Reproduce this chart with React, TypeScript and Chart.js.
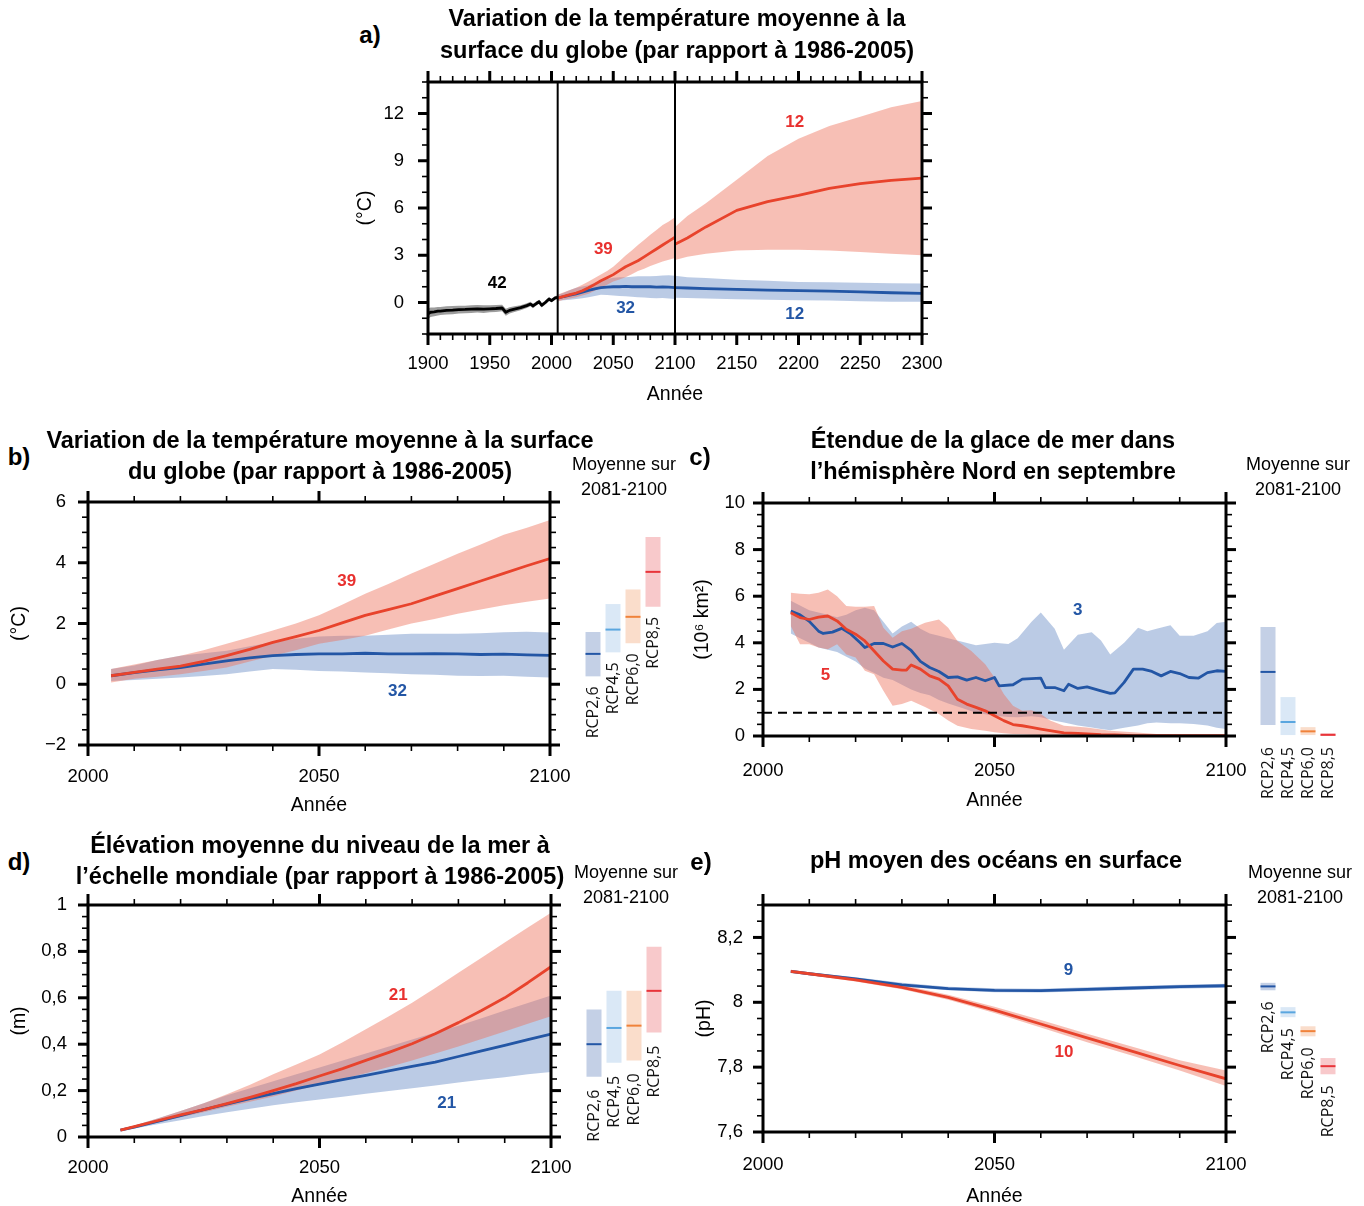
import React, { useEffect, useRef } from 'react';
import { Chart, registerables } from 'chart.js';

Chart.register(...registerables);

// ---------------- data ----------------
// Panel a: historical (1900-2005)
const A_HIST_YEARS = [1900, 1902, 1905, 1908, 1910, 1915, 1920, 1925, 1930, 1935, 1940, 1945, 1950, 1955, 1960, 1963, 1966, 1970, 1975, 1980, 1983, 1985, 1988, 1990, 1992, 1995, 1998, 2000, 2003, 2005];
const A_HIST_MEAN = [-0.72, -0.62, -0.6, -0.55, -0.55, -0.5, -0.48, -0.45, -0.44, -0.42, -0.4, -0.42, -0.4, -0.38, -0.35, -0.62, -0.5, -0.42, -0.33, -0.2, -0.1, -0.22, -0.05, 0.05, -0.18, 0.0, 0.22, 0.12, 0.3, 0.32];
const A_HIST_HIGH = [-0.4, -0.32, -0.32, -0.28, -0.28, -0.24, -0.22, -0.2, -0.2, -0.18, -0.16, -0.18, -0.18, -0.16, -0.14, -0.4, -0.3, -0.24, -0.17, -0.05, 0.04, -0.08, 0.08, 0.18, -0.05, 0.12, 0.34, 0.24, 0.42, 0.44];
const A_HIST_LOW = [-1.05, -0.92, -0.88, -0.82, -0.8, -0.76, -0.74, -0.7, -0.68, -0.66, -0.64, -0.66, -0.62, -0.6, -0.56, -0.84, -0.7, -0.6, -0.49, -0.35, -0.24, -0.36, -0.18, -0.08, -0.31, -0.12, 0.1, 0.0, 0.18, 0.2];

// Temperature projections 2005-2100 (panels a and b)
const T_YEARS = [2005, 2010, 2015, 2020, 2025, 2030, 2035, 2040, 2045, 2050, 2055, 2060, 2065, 2070, 2075, 2080, 2085, 2090, 2095, 2100];
const T85_MEAN = [0.28, 0.39, 0.5, 0.6, 0.75, 0.94, 1.15, 1.38, 1.57, 1.77, 2.02, 2.27, 2.46, 2.65, 2.9, 3.15, 3.4, 3.65, 3.9, 4.14];
const T85_HIGH = [0.5, 0.65, 0.8, 0.94, 1.12, 1.33, 1.55, 1.77, 2.0, 2.27, 2.62, 2.98, 3.3, 3.65, 3.97, 4.3, 4.6, 4.92, 5.15, 5.41];
const T85_LOW = [0.06, 0.18, 0.25, 0.33, 0.44, 0.55, 0.75, 0.94, 1.12, 1.33, 1.46, 1.6, 1.8, 2.0, 2.15, 2.32, 2.46, 2.6, 2.72, 2.82];
const T26_MEAN = [0.28, 0.38, 0.47, 0.55, 0.66, 0.77, 0.87, 0.94, 0.98, 1.0, 1.0, 1.02, 1.0, 1.0, 1.01, 1.0, 0.98, 0.99, 0.97, 0.95];
const T26_HIGH = [0.5, 0.62, 0.8, 0.94, 1.02, 1.1, 1.25, 1.38, 1.5, 1.57, 1.6, 1.6, 1.63, 1.66, 1.66, 1.66, 1.68, 1.71, 1.73, 1.7];
const T26_LOW = [0.11, 0.14, 0.18, 0.22, 0.27, 0.33, 0.42, 0.5, 0.48, 0.44, 0.42, 0.39, 0.36, 0.33, 0.31, 0.28, 0.27, 0.28, 0.25, 0.22];

// Panel a: extension 2100-2300
const A_EXT_YEARS = [2100, 2110, 2125, 2150, 2175, 2200, 2225, 2250, 2275, 2300];
const A_EXT85_MEAN = [3.7, 4.1, 4.8, 5.85, 6.4, 6.8, 7.25, 7.55, 7.75, 7.9];
const A_EXT85_HIGH = [4.8, 5.5, 6.3, 7.8, 9.3, 10.4, 11.2, 11.8, 12.4, 12.8];
const A_EXT85_LOW = [2.7, 2.9, 3.1, 3.3, 3.35, 3.35, 3.3, 3.2, 3.1, 3.0];
const A_EXT26_MEAN = [0.95, 0.92, 0.88, 0.83, 0.78, 0.75, 0.72, 0.68, 0.62, 0.58];
const A_EXT26_HIGH = [1.7, 1.6, 1.55, 1.45, 1.38, 1.3, 1.28, 1.25, 1.22, 1.2];
const A_EXT26_LOW = [0.3, 0.28, 0.25, 0.2, 0.18, 0.15, 0.12, 0.08, 0.05, 0.05];
const A_DIVIDERS = [2005, 2100];

// Panel c: September Arctic sea ice extent (10^6 km2)
const C_BLUE_YEARS = [2006, 2008, 2010, 2012, 2013, 2015, 2017, 2019, 2021, 2022, 2024, 2026, 2028, 2030, 2032, 2034, 2036, 2038, 2040, 2042, 2044, 2046, 2048, 2050, 2051, 2054, 2056, 2060, 2061, 2063, 2065, 2066, 2068, 2070, 2073, 2075, 2076, 2078, 2080, 2082, 2084, 2086, 2088, 2090, 2092, 2094, 2096, 2098, 2100];
const C_BLUE_MEAN = [5.36, 5.2, 4.92, 4.5, 4.4, 4.46, 4.62, 4.37, 4.0, 3.8, 3.97, 3.97, 3.82, 3.97, 3.67, 3.2, 2.94, 2.77, 2.51, 2.54, 2.4, 2.51, 2.37, 2.51, 2.15, 2.2, 2.44, 2.48, 2.08, 2.08, 1.94, 2.22, 2.04, 2.11, 1.94, 1.83, 1.85, 2.3, 2.87, 2.87, 2.77, 2.58, 2.77, 2.68, 2.51, 2.48, 2.72, 2.8, 2.77];
const C_BLUE_BAND_YEARS = [2006, 2008, 2010, 2012, 2014, 2016, 2018, 2020, 2022, 2024, 2026, 2028, 2030, 2032, 2034, 2036, 2038, 2040, 2043, 2046, 2050, 2053, 2055, 2058, 2060, 2063, 2065, 2068, 2071, 2073, 2075, 2078, 2081, 2083, 2085, 2088, 2090, 2093, 2096, 2098, 2100];
const C_BLUE_HIGH = [5.8, 5.6, 5.4, 5.3, 5.2, 5.1, 5.2, 5.4, 5.5, 5.4, 4.9, 4.4, 4.7, 4.9, 4.6, 4.4, 4.3, 4.2, 4.05, 3.9, 4.0, 3.95, 4.2, 4.9, 5.3, 4.6, 3.7, 4.35, 4.45, 4.1, 3.5, 4.0, 4.65, 4.5, 4.6, 4.75, 4.3, 4.3, 4.5, 4.85, 4.9];
const C_BLUE_LOW = [4.4, 4.2, 4.0, 3.8, 3.7, 3.6, 3.4, 3.2, 2.9, 2.7, 2.5, 2.4, 2.2, 2.0, 1.85, 1.75, 1.55, 1.4, 1.2, 1.0, 0.87, 0.82, 0.8, 0.85, 0.8, 0.65, 0.58, 0.45, 0.37, 0.3, 0.25, 0.35, 0.45, 0.55, 0.58, 0.55, 0.55, 0.52, 0.45, 0.35, 0.3];
const C_RED_YEARS = [2006, 2008, 2010, 2012, 2014, 2016, 2018, 2020, 2022, 2024, 2026, 2028, 2030, 2031, 2032, 2034, 2036, 2038, 2040, 2042, 2044, 2046, 2048, 2050, 2052, 2054, 2056, 2058, 2060, 2062, 2065, 2068, 2070, 2073, 2076, 2080, 2085, 2090, 2095, 2100];
const C_RED_MEAN = [5.29, 5.08, 5.0, 5.1, 5.15, 4.94, 4.58, 4.37, 4.08, 3.65, 3.22, 2.87, 2.83, 2.83, 3.05, 2.87, 2.58, 2.44, 2.15, 1.58, 1.37, 1.23, 1.08, 0.87, 0.66, 0.49, 0.44, 0.37, 0.3, 0.23, 0.13, 0.11, 0.09, 0.06, 0.05, 0.02, 0.01, 0.01, 0.01, 0.01];
const C_RED_BAND_YEARS = [2006, 2008, 2010, 2012, 2014, 2016, 2018, 2020, 2022, 2024, 2026, 2028, 2030, 2032, 2035, 2038, 2040, 2042, 2045, 2048, 2050, 2052, 2054, 2056, 2058, 2060, 2062, 2065, 2070, 2075, 2080, 2085, 2090, 2095, 2100];
const C_RED_HIGH = [6.15, 6.1, 6.08, 6.15, 6.29, 6.0, 5.58, 5.55, 5.55, 5.58, 4.65, 4.22, 4.5, 4.6, 4.86, 5.0, 4.65, 4.08, 3.65, 3.08, 2.51, 1.8, 1.3, 1.08, 1.1, 0.94, 0.66, 0.44, 0.37, 0.23, 0.16, 0.09, 0.06, 0.05, 0.04];
const C_RED_LOW = [4.72, 3.94, 3.94, 3.8, 3.72, 3.94, 3.5, 3.37, 2.8, 2.65, 1.94, 1.3, 1.37, 1.51, 1.25, 0.94, 0.66, 0.44, 0.3, 0.23, 0.16, 0.12, 0.09, 0.07, 0.05, 0.04, 0.03, 0.02, 0.01, 0.0, 0.0, 0.0, 0.0, 0.0, 0.0];
const C_THRESHOLD_YEARS = [2000, 2100];
const C_THRESHOLD = [1, 1];

// Panel d: global mean sea level rise (m)
const D_YEARS = [2007, 2010, 2015, 2020, 2025, 2030, 2035, 2040, 2045, 2050, 2055, 2060, 2065, 2070, 2075, 2080, 2085, 2090, 2095, 2100];
const D85_MEAN = [0.03, 0.045, 0.07, 0.095, 0.118, 0.144, 0.171, 0.2, 0.23, 0.263, 0.295, 0.33, 0.365, 0.402, 0.445, 0.493, 0.545, 0.6, 0.665, 0.734];
const D85_HIGH = [0.033, 0.05, 0.08, 0.112, 0.146, 0.184, 0.225, 0.27, 0.312, 0.356, 0.408, 0.464, 0.52, 0.579, 0.642, 0.708, 0.773, 0.838, 0.903, 0.967];
const D85_LOW = [0.027, 0.04, 0.062, 0.085, 0.107, 0.13, 0.152, 0.175, 0.2, 0.225, 0.25, 0.275, 0.302, 0.33, 0.36, 0.39, 0.422, 0.455, 0.488, 0.52];
const D26_MEAN = [0.03, 0.043, 0.067, 0.092, 0.118, 0.142, 0.165, 0.187, 0.208, 0.228, 0.247, 0.266, 0.285, 0.304, 0.323, 0.347, 0.371, 0.395, 0.42, 0.444];
const D26_HIGH = [0.034, 0.05, 0.08, 0.112, 0.145, 0.18, 0.21, 0.24, 0.27, 0.3, 0.33, 0.36, 0.39, 0.42, 0.45, 0.48, 0.512, 0.545, 0.578, 0.61];
const D26_LOW = [0.026, 0.037, 0.055, 0.072, 0.09, 0.107, 0.122, 0.137, 0.15, 0.162, 0.174, 0.186, 0.198, 0.21, 0.222, 0.235, 0.247, 0.258, 0.27, 0.28];

// Panel e: surface ocean pH
const E_YEARS = [2006, 2010, 2020, 2030, 2040, 2050, 2060, 2070, 2080, 2090, 2100];
const E26_MEAN = [8.095, 8.088, 8.072, 8.054, 8.042, 8.037, 8.036, 8.04, 8.044, 8.048, 8.051];
const E26_HIGH = [8.1, 8.093, 8.077, 8.06, 8.048, 8.043, 8.042, 8.046, 8.05, 8.054, 8.057];
const E26_LOW = [8.09, 8.083, 8.067, 8.049, 8.037, 8.031, 8.03, 8.034, 8.038, 8.042, 8.045];
const E85_MEAN = [8.095, 8.088, 8.069, 8.046, 8.015, 7.976, 7.933, 7.89, 7.848, 7.805, 7.764];
const E85_HIGH = [8.1, 8.093, 8.075, 8.053, 8.023, 7.986, 7.945, 7.903, 7.862, 7.821, 7.79];
const E85_LOW = [8.09, 8.083, 8.064, 8.04, 8.008, 7.967, 7.922, 7.877, 7.834, 7.79, 7.742];

// 2081-2100 averages (side bars): RCP2.6, RCP4.5, RCP6.0, RCP8.5
const RCP_LABELS = ['RCP2,6', 'RCP4,5', 'RCP6,0', 'RCP8,5'];
const B_SB_LOW = [0.26, 1.05, 1.35, 2.55];
const B_SB_HIGH = [1.72, 2.64, 3.12, 4.85];
const B_SB_MEAN = [1.0, 1.8, 2.22, 3.7];
const C_SB_LOW = [0.47, 0.04, 0.04, 0.0];
const C_SB_HIGH = [4.68, 1.67, 0.38, 0.12];
const C_SB_MEAN = [2.75, 0.6, 0.2, 0.05];
const D_SB_LOW = [0.26, 0.32, 0.33, 0.45];
const D_SB_HIGH = [0.55, 0.63, 0.63, 0.82];
const D_SB_MEAN = [0.4, 0.47, 0.48, 0.63];
const E_SB_LOW = [8.037, 7.954, 7.895, 7.778];
const E_SB_HIGH = [8.06, 7.985, 7.926, 7.828];
const E_SB_MEAN = [8.049, 7.969, 7.911, 7.803];

// Model-count annotations
const A_NOTE_X = [1956, 2042, 2060, 2197, 2197];
const A_NOTE_Y = [1.25, 3.4, -0.4, 11.45, -0.75];
const A_NOTE_TEXT = ['42', '39', '32', '12', '12'];
const A_NOTE_KIND = ['hist', 'rcp85', 'rcp26', 'rcp85', 'rcp26'];
const B_NOTE_X = [2056, 2067];
const B_NOTE_Y = [3.4, -0.23];
const B_NOTE_TEXT = ['39', '32'];
const B_NOTE_KIND = ['rcp85', 'rcp26'];
const C_NOTE_X = [2068, 2013.5];
const C_NOTE_Y = [5.4, 2.6];
const C_NOTE_TEXT = ['3', '5'];
const C_NOTE_KIND = ['rcp26', 'rcp85'];
const D_NOTE_X = [2067, 2077.5];
const D_NOTE_Y = [0.612, 0.147];
const D_NOTE_TEXT = ['21', '21'];
const D_NOTE_KIND = ['rcp85', 'rcp26'];
const E_NOTE_X = [2066, 2065];
const E_NOTE_Y = [8.098, 7.846];
const E_NOTE_TEXT = ['9', '10'];
const E_NOTE_KIND = ['rcp26', 'rcp85'];

// Tick values and labels
const A_XTICKS = [1900, 1950, 2000, 2050, 2100, 2150, 2200, 2250, 2300];
const A_YTICKS = [0, 3, 6, 9, 12];
const A_YLABELS = ['0', '3', '6', '9', '12'];
const P_XTICKS = [2000, 2050, 2100];
const B_YTICKS = [-2, 0, 2, 4, 6];
const B_YLABELS = ['\u22122', '0', '2', '4', '6'];
const C_YTICKS = [0, 2, 4, 6, 8, 10];
const C_YLABELS = ['0', '2', '4', '6', '8', '10'];
const D_YTICKS = [0, 0.2, 0.4, 0.6, 0.8, 1];
const D_YLABELS = ['0', '0,2', '0,4', '0,6', '0,8', '1'];
const E_YTICKS = [7.6, 7.8, 8, 8.2];
const E_YLABELS = ['7,6', '7,8', '8', '8,2'];

// ---------------- styles ----------------
const SANS = "'Liberation Sans', Arial, 'DejaVu Sans', sans-serif";
const OPEN = "'Open Sans', 'Noto Sans', sans-serif";
const RED = '#E8432C';
const BLUE = '#2356A5';
const RED_BAND = 'rgba(238,112,92,0.45)';
const BLUE_BAND = 'rgba(105,140,198,0.45)';
const GRAY_BAND = 'rgba(60,60,60,0.5)';
const NOTE_COLORS: Record<string, string> = { hist: '#000', rcp85: '#E8312F', rcp26: '#2356A5' };
const SB_FILL = ['#C4D0E6', '#DAE8F6', '#FADDCB', '#F8C9CB'];
const SB_LINE = ['#2356A5', '#5AA6DF', '#F0823A', '#E8343A'];

type Box = { x: number; y: number; w: number; h: number };

function lineDs(xs: number[], ys: number[], color: string, width = 2.8, dash: number[] = []) {
  return {
    data: xs.map((x, i) => ({ x, y: ys[i] })),
    borderColor: color,
    borderWidth: width,
    borderDash: dash,
    pointRadius: 0,
    pointHoverRadius: 0,
    fill: false,
    tension: 0,
    borderJoinStyle: 'round',
  };
}

function bandDs(xs: number[], hi: number[], lo: number[], color: string) {
  return [
    {
      data: xs.map((x, i) => ({ x, y: hi[i] })),
      borderColor: 'rgba(0,0,0,0)',
      borderWidth: 0,
      backgroundColor: color,
      fill: '+1',
      pointRadius: 0,
      pointHoverRadius: 0,
      tension: 0,
    },
    {
      data: xs.map((x, i) => ({ x, y: lo[i] })),
      borderColor: 'rgba(0,0,0,0)',
      borderWidth: 0,
      fill: false,
      pointRadius: 0,
      pointHoverRadius: 0,
      tension: 0,
    },
  ];
}

function notes(xs: number[], ys: number[], texts: string[], kinds: string[]) {
  return xs.map((x, i) => ({ x, y: ys[i], text: texts[i], color: NOTE_COLORS[kinds[i]] }));
}

type MainSpec = {
  padTop: number; padRight: number; yW: number; xH: number;
  xMin: number; xMax: number; yMin: number; yMax: number;
  xTicks: number[]; yTicks: number[]; yLabels: string[];
  xMinor: number; yMinor: number;
  xTickPad: number; yTickPad: number; yTitle: string; yTitlePad: number; xTitlePad: number;
  datasets: any[]; notes: { x: number; y: number; text: string; color: string }[]; vlines?: number[];
};

function zeroPad(sc: any) {
  sc.paddingLeft = 0;
  sc.paddingRight = 0;
  sc.paddingTop = 0;
  sc.paddingBottom = 0;
}

function mainConfig(s: MainSpec): any {
  const frame = {
    id: 'frame',
    afterDatasetsDraw(chart: any) {
      const { ctx, chartArea: a } = chart;
      const xs = chart.scales.x;
      const ys = chart.scales.y;
      const seg = (x1: number, y1: number, x2: number, y2: number) => {
        ctx.beginPath(); ctx.moveTo(x1, y1); ctx.lineTo(x2, y2); ctx.stroke();
      };
      ctx.save();
      ctx.strokeStyle = '#000';
      ctx.lineCap = 'butt';
      ctx.lineWidth = 2;
      for (const v of s.vlines || []) {
        const p = xs.getPixelForValue(v);
        seg(p, a.top, p, a.bottom);
      }
      ctx.lineWidth = 1.6;
      const nx = Math.round((xs.max - xs.min) / s.xMinor);
      for (let i = 0; i <= nx; i++) {
        const p = xs.getPixelForValue(xs.min + i * s.xMinor);
        seg(p, a.bottom, p, a.bottom + 6);
        seg(p, a.top - 6, p, a.top);
      }
      const ny = Math.round((ys.max - ys.min) / s.yMinor);
      for (let i = 0; i <= ny; i++) {
        const p = ys.getPixelForValue(ys.min + i * s.yMinor);
        seg(a.left - 6, p, a.left, p);
        seg(a.right, p, a.right + 6, p);
      }
      ctx.lineWidth = 3;
      for (const v of s.xTicks) {
        const p = xs.getPixelForValue(v);
        seg(p, a.bottom, p, a.bottom + 11);
        seg(p, a.top - 11, p, a.top);
      }
      for (const v of s.yTicks) {
        const p = ys.getPixelForValue(v);
        seg(a.left - 10, p, a.left, p);
        seg(a.right, p, a.right + 10, p);
      }
      ctx.strokeRect(a.left, a.top, a.right - a.left, a.bottom - a.top);
      ctx.restore();
    },
  };
  const notesPlugin = {
    id: 'notes',
    afterDatasetsDraw(chart: any) {
      const { ctx } = chart;
      const xs = chart.scales.x;
      const ys = chart.scales.y;
      ctx.save();
      ctx.font = `bold 17px ${SANS}`;
      ctx.textAlign = 'center';
      ctx.textBaseline = 'middle';
      for (const n of s.notes) {
        ctx.fillStyle = n.color;
        ctx.fillText(n.text, xs.getPixelForValue(n.x), ys.getPixelForValue(n.y));
      }
      ctx.restore();
    },
  };
  const tickFont = { family: SANS, size: 18.5 };
  const titleFont = { family: SANS, size: 19.5, lineHeight: 1 };
  return {
    type: 'line',
    data: { datasets: s.datasets },
    options: {
      animation: false,
      responsive: false,
      events: [],
      layout: { autoPadding: false, padding: { top: s.padTop, right: s.padRight, left: 0, bottom: 0 } },
      plugins: { legend: { display: false }, tooltip: { enabled: false } },
      scales: {
        x: {
          type: 'linear',
          position: 'bottom',
          min: s.xMin,
          max: s.xMax,
          grid: { display: false, drawTicks: false },
          border: { display: false },
          afterBuildTicks: (sc: any) => { sc.ticks = s.xTicks.map((v) => ({ value: v })); },
          afterFit: (sc: any) => { sc.height = s.xH; zeroPad(sc); },
          ticks: {
            font: tickFont, color: '#000', padding: s.xTickPad, maxRotation: 0, minRotation: 0, autoSkip: false,
            callback: (v: any) => String(v),
          },
          title: { display: true, text: 'Année', color: '#000', font: titleFont, padding: { top: 0, bottom: s.xTitlePad } },
        },
        y: {
          type: 'linear',
          position: 'left',
          min: s.yMin,
          max: s.yMax,
          grid: { display: false, drawTicks: false },
          border: { display: false },
          afterBuildTicks: (sc: any) => { sc.ticks = s.yTicks.map((v) => ({ value: v })); },
          afterFit: (sc: any) => { sc.width = s.yW; zeroPad(sc); },
          ticks: {
            font: tickFont, color: '#000', padding: s.yTickPad, autoSkip: false,
            callback: (v: any) => { const k = s.yTicks.indexOf(v); return k >= 0 ? s.yLabels[k] : ''; },
          },
          title: { display: true, text: s.yTitle, color: '#000', font: titleFont, padding: { top: s.yTitlePad, bottom: 0 } },
        },
      },
    },
    plugins: [frame, notesPlugin],
  };
}

type SideSpec = {
  low: number[]; high: number[]; mean: number[]; yMin: number; yMax: number;
  padBottom: number; gap?: number; fixed?: number;
};

function sideConfig(s: SideSpec): any {
  const labelsPlugin = {
    id: 'rcpLabels',
    afterDatasetsDraw(chart: any) {
      const { ctx, chartArea } = chart;
      const xs = chart.scales.x;
      const ys = chart.scales.y;
      ctx.save();
      ctx.font = `16px ${OPEN}`;
      ctx.fillStyle = '#111';
      ctx.textAlign = 'right';
      ctx.textBaseline = 'middle';
      RCP_LABELS.forEach((t, i) => {
        const x = xs.getPixelForValue(i);
        const y = s.fixed !== undefined ? chartArea.bottom + s.fixed : ys.getPixelForValue(s.low[i]) + (s.gap || 10);
        ctx.save();
        ctx.translate(x, y);
        ctx.rotate(-Math.PI / 2);
        ctx.fillText(t, 0, 0);
        ctx.restore();
      });
      ctx.restore();
    },
  };
  return {
    type: 'bar',
    data: {
      labels: RCP_LABELS,
      datasets: [
        {
          type: 'line',
          data: s.mean,
          showLine: false,
          pointStyle: 'line',
          pointRadius: 7.5,
          pointHoverRadius: 7.5,
          pointBorderWidth: 2,
          pointBorderColor: SB_LINE,
          pointBackgroundColor: SB_LINE,
          order: 0,
        },
        {
          type: 'bar',
          data: s.low.map((l, i) => [l, s.high[i]]),
          backgroundColor: SB_FILL,
          borderWidth: 0,
          barPercentage: 0.75,
          categoryPercentage: 1,
          order: 1,
        },
      ],
    },
    options: {
      animation: false,
      responsive: false,
      events: [],
      layout: { autoPadding: false, padding: { top: 0, left: 0, right: 0, bottom: s.padBottom } },
      plugins: { legend: { display: false }, tooltip: { enabled: false } },
      scales: {
        x: { display: false },
        y: { display: false, min: s.yMin, max: s.yMax },
      },
    },
    plugins: [labelsPlugin],
  };
}

function ChartBox({ box, make }: { box: Box; make: () => any }) {
  const ref = useRef<HTMLCanvasElement | null>(null);
  useEffect(() => {
    const chart = new Chart(ref.current as HTMLCanvasElement, make());
    return () => chart.destroy();
  }, []);
  return (
    <canvas
      ref={ref}
      width={box.w}
      height={box.h}
      style={{ position: 'absolute', left: box.x, top: box.y, width: box.w, height: box.h }}
    />
  );
}

function Txt({ x, y, size, bold = false, children }: { x: number; y: number; size: number; bold?: boolean; children: any }) {
  return (
    <div
      style={{
        position: 'absolute',
        left: x - 400,
        top: y - size * 0.63,
        width: 800,
        textAlign: 'center',
        fontFamily: SANS,
        fontSize: size,
        fontWeight: bold ? 700 : 400,
        lineHeight: `${Math.round(size * 1.2)}px`,
        whiteSpace: 'nowrap',
        color: '#000',
      }}
    >
      {children}
    </div>
  );
}

// ---------------- panels ----------------
const makeA = () =>
  mainConfig({
    padTop: 22, padRight: 28, yW: 74, xH: 72,
    xMin: 1900, xMax: 2300, yMin: -2, yMax: 14,
    xTicks: A_XTICKS, yTicks: A_YTICKS, yLabels: A_YLABELS, xMinor: 10, yMinor: 1,
    xTickPad: 19, yTickPad: 24, yTitle: '(°C)', yTitlePad: 2, xTitlePad: 2,
    vlines: A_DIVIDERS,
    notes: notes(A_NOTE_X, A_NOTE_Y, A_NOTE_TEXT, A_NOTE_KIND),
    datasets: [
      lineDs(T_YEARS, T85_MEAN, RED),
      lineDs(A_EXT_YEARS, A_EXT85_MEAN, RED),
      lineDs(T_YEARS, T26_MEAN, BLUE),
      lineDs(A_EXT_YEARS, A_EXT26_MEAN, BLUE),
      lineDs(A_HIST_YEARS, A_HIST_MEAN, '#000'),
      ...bandDs(T_YEARS, T85_HIGH, T85_LOW, RED_BAND),
      ...bandDs(A_EXT_YEARS, A_EXT85_HIGH, A_EXT85_LOW, RED_BAND),
      ...bandDs(T_YEARS, T26_HIGH, T26_LOW, BLUE_BAND),
      ...bandDs(A_EXT_YEARS, A_EXT26_HIGH, A_EXT26_LOW, BLUE_BAND),
      ...bandDs(A_HIST_YEARS, A_HIST_HIGH, A_HIST_LOW, GRAY_BAND),
    ],
  });

const makeB = () =>
  mainConfig({
    padTop: 22, padRight: 22, yW: 80, xH: 72,
    xMin: 2000, xMax: 2100, yMin: -2, yMax: 6,
    xTicks: P_XTICKS, yTicks: B_YTICKS, yLabels: B_YLABELS, xMinor: 10, yMinor: 0.5,
    xTickPad: 21, yTickPad: 22, yTitle: '(°C)', yTitlePad: 2, xTitlePad: 2,
    notes: notes(B_NOTE_X, B_NOTE_Y, B_NOTE_TEXT, B_NOTE_KIND),
    datasets: [
      lineDs(T_YEARS, T85_MEAN, RED),
      lineDs(T_YEARS, T26_MEAN, BLUE),
      ...bandDs(T_YEARS, T85_HIGH, T85_LOW, RED_BAND),
      ...bandDs(T_YEARS, T26_HIGH, T26_LOW, BLUE_BAND),
    ],
  });

const makeC = () =>
  mainConfig({
    padTop: 23, padRight: 22, yW: 72, xH: 76,
    xMin: 2000, xMax: 2100, yMin: 0, yMax: 10,
    xTicks: P_XTICKS, yTicks: C_YTICKS, yLabels: C_YLABELS, xMinor: 10, yMinor: 0.5,
    xTickPad: 24, yTickPad: 18, yTitle: '(10⁶ km²)', yTitlePad: 2, xTitlePad: 2,
    notes: notes(C_NOTE_X, C_NOTE_Y, C_NOTE_TEXT, C_NOTE_KIND),
    datasets: [
      lineDs(C_THRESHOLD_YEARS, C_THRESHOLD, '#000', 2, [9, 6]),
      lineDs(C_RED_YEARS, C_RED_MEAN, RED),
      lineDs(C_BLUE_YEARS, C_BLUE_MEAN, BLUE),
      ...bandDs(C_RED_BAND_YEARS, C_RED_HIGH, C_RED_LOW, RED_BAND),
      ...bandDs(C_BLUE_BAND_YEARS, C_BLUE_HIGH, C_BLUE_LOW, BLUE_BAND),
    ],
  });

const makeD = () =>
  mainConfig({
    padTop: 21, padRight: 21, yW: 80, xH: 69,
    xMin: 2000, xMax: 2100, yMin: 0, yMax: 1,
    xTicks: P_XTICKS, yTicks: D_YTICKS, yLabels: D_YLABELS, xMinor: 10, yMinor: 0.05,
    xTickPad: 20, yTickPad: 21, yTitle: '(m)', yTitlePad: 2, xTitlePad: 0,
    notes: notes(D_NOTE_X, D_NOTE_Y, D_NOTE_TEXT, D_NOTE_KIND),
    datasets: [
      lineDs(D_YEARS, D85_MEAN, RED),
      lineDs(D_YEARS, D26_MEAN, BLUE),
      ...bandDs(D_YEARS, D85_HIGH, D85_LOW, RED_BAND),
      ...bandDs(D_YEARS, D26_HIGH, D26_LOW, BLUE_BAND),
    ],
  });

const makeE = () =>
  mainConfig({
    padTop: 21, padRight: 22, yW: 70, xH: 74,
    xMin: 2000, xMax: 2100, yMin: 7.6, yMax: 8.3,
    xTicks: P_XTICKS, yTicks: E_YTICKS, yLabels: E_YLABELS, xMinor: 10, yMinor: 0.05,
    xTickPad: 22, yTickPad: 20, yTitle: '(pH)', yTitlePad: 2, xTitlePad: 0,
    notes: notes(E_NOTE_X, E_NOTE_Y, E_NOTE_TEXT, E_NOTE_KIND),
    datasets: [
      lineDs(E_YEARS, E85_MEAN, RED),
      lineDs(E_YEARS, E26_MEAN, BLUE),
      ...bandDs(E_YEARS, E85_HIGH, E85_LOW, RED_BAND),
      ...bandDs(E_YEARS, E26_HIGH, E26_LOW, BLUE_BAND),
    ],
  });

const makeSB = () => sideConfig({ low: B_SB_LOW, high: B_SB_HIGH, mean: B_SB_MEAN, yMin: -2, yMax: 6, padBottom: 80, gap: 10 });
const makeSC = () => sideConfig({ low: C_SB_LOW, high: C_SB_HIGH, mean: C_SB_MEAN, yMin: 0, yMax: 10, padBottom: 70, fixed: 11 });
const makeSD = () => sideConfig({ low: D_SB_LOW, high: D_SB_HIGH, mean: D_SB_MEAN, yMin: 0, yMax: 1, padBottom: 69, gap: 13 });
const makeSE = () => sideConfig({ low: E_SB_LOW, high: E_SB_HIGH, mean: E_SB_MEAN, yMin: 7.6, yMax: 8.3, padBottom: 74, gap: 11 });

export default function App() {
  return (
    <div style={{ position: 'fixed', left: 0, top: 0, width: 1364, height: 1206, background: '#fff', overflow: 'hidden' }}>
      <ChartBox box={{ x: 354, y: 60, w: 596, h: 346 }} make={makeA} />
      <ChartBox box={{ x: 8, y: 480, w: 564, h: 337 }} make={makeB} />
      <ChartBox box={{ x: 691, y: 480, w: 557, h: 332 }} make={makeC} />
      <ChartBox box={{ x: 8, y: 884, w: 564, h: 322 }} make={makeD} />
      <ChartBox box={{ x: 693, y: 884, w: 555, h: 322 }} make={makeE} />
      <ChartBox box={{ x: 583, y: 502, w: 80, h: 323 }} make={makeSB} />
      <ChartBox box={{ x: 1258, y: 503, w: 80, h: 303 }} make={makeSC} />
      <ChartBox box={{ x: 584, y: 905, w: 80, h: 301 }} make={makeSD} />
      <ChartBox box={{ x: 1258, y: 905, w: 80, h: 301 }} make={makeSE} />

      <Txt x={370} y={35} size={24} bold>a)</Txt>
      <Txt x={677} y={19} size={23.5} bold>Variation de la température moyenne à la</Txt>
      <Txt x={677} y={51} size={23.5} bold>surface du globe (par rapport à 1986-2005)</Txt>

      <Txt x={19} y={457} size={24} bold>b)</Txt>
      <Txt x={320} y={441} size={23.5} bold>Variation de la température moyenne à la surface</Txt>
      <Txt x={320} y={472} size={23.5} bold>du globe (par rapport à 1986-2005)</Txt>
      <Txt x={624} y={464} size={18}>Moyenne sur</Txt>
      <Txt x={624} y={489} size={18}>2081-2100</Txt>

      <Txt x={700} y={457} size={24} bold>c)</Txt>
      <Txt x={993} y={441} size={23.5} bold>Étendue de la glace de mer dans</Txt>
      <Txt x={993} y={472} size={23.5} bold>l’hémisphère Nord en septembre</Txt>
      <Txt x={1298} y={464} size={18}>Moyenne sur</Txt>
      <Txt x={1298} y={489} size={18}>2081-2100</Txt>

      <Txt x={19} y={862} size={24} bold>d)</Txt>
      <Txt x={320} y={846} size={23.5} bold>Élévation moyenne du niveau de la mer à</Txt>
      <Txt x={320} y={877} size={23.5} bold>l’échelle mondiale (par rapport à 1986-2005)</Txt>
      <Txt x={626} y={872} size={18}>Moyenne sur</Txt>
      <Txt x={626} y={897} size={18}>2081-2100</Txt>

      <Txt x={701} y={862} size={24} bold>e)</Txt>
      <Txt x={996} y={861} size={23.5} bold>pH moyen des océans en surface</Txt>
      <Txt x={1300} y={872} size={18}>Moyenne sur</Txt>
      <Txt x={1300} y={897} size={18}>2081-2100</Txt>
    </div>
  );
}
